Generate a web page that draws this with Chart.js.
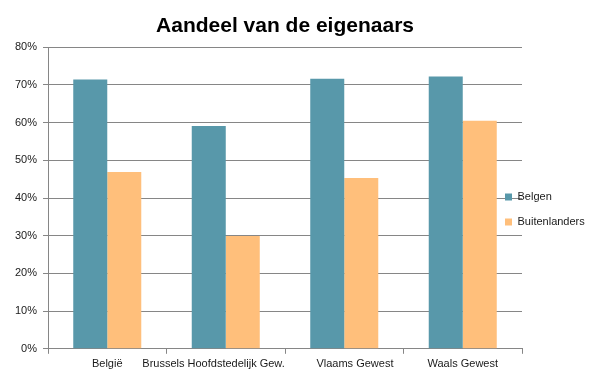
<!DOCTYPE html>
<html>
<head>
<meta charset="utf-8">
<script src="https://cdn.jsdelivr.net/npm/chart.js@4"></script>
<style>
  html, body { margin: 0; padding: 0; background: #fff; }
  #wrap { width: 605px; height: 378px; }
</style>
</head>
<body>
<div id="wrap"><canvas id="chart" width="605" height="378"></canvas></div>
<script>
// labels (extra spaces nudge the two long labels apart like in the original)
const categories = ["België", "Brussels Hoofdstedelijk Gew.        ", "       Vlaams Gewest", "Waals Gewest"];
const belgen = [71.4, 59.1, 71.6, 72.2];
const buitenlanders = [46.9, 29.9, 45.3, 60.5];
const yTicks = [0, 10, 20, 30, 40, 50, 60, 70, 80];

const gridColor = "#868686";
const textColor = "#1a1a1a";

// legend sits partly over the plot area, like Excel does it
const legendShift = {
  id: "legendShift",
  afterLayout(chart) {
    const lg = chart.legend;
    lg.left = 491;
    lg.width = 110;
    lg.right = lg.left + lg.width;
    lg.top += 16;
    lg.bottom += 16;
  }
};

const ctx = document.getElementById("chart").getContext("2d");
new Chart(ctx, {
  type: "bar",
  data: {
    labels: categories,
    datasets: [
      { label: "Belgen", data: belgen, backgroundColor: "#5898AA" },
      { label: "Buitenlanders", data: buitenlanders, backgroundColor: "#FFBF7B" }
    ]
  },
  options: {
    responsive: false,
    animation: false,
    layout: { padding: { top: 12, right: 0, left: 9, bottom: 3 } },
    datasets: {
      bar: { barPercentage: 1, categoryPercentage: 0.574 }
    },
    plugins: {
      title: {
        display: true,
        text: "Aandeel van de eigenaars",
        color: "#000",
        fullSize: false,
        font: { family: "Liberation Sans", size: 21, weight: "bold" },
        padding: { top: 2, bottom: 8 }
      },
      legend: {
        position: "right",
        maxWidth: 83,
        labels: {
          boxWidth: 7,
          boxHeight: 7,
          color: textColor,
          padding: 14,
          font: { family: "Liberation Sans", size: 11 }
        }
      },
      tooltip: { enabled: false }
    },
    scales: {
      x: {
        grid: {
          display: true,
          drawOnChartArea: false,
          drawTicks: true,
          tickLength: 5,
          color: gridColor,
          offset: true
        },
        border: { color: gridColor },
        ticks: {
          color: textColor,
          autoSkip: false,
          maxRotation: 0,
          minRotation: 0,
          padding: 4,
          font: { family: "Liberation Sans", size: 11 }
        }
      },
      y: {
        min: 0,
        max: 80,
        afterBuildTicks: axis => { axis.ticks = yTicks.map(v => ({ value: v })); },
        grid: { color: gridColor, tickLength: 5 },
        border: { color: gridColor },
        ticks: {
          color: textColor,
          padding: 6,
          font: { family: "Liberation Sans", size: 11 },
          callback: v => v + "%"
        }
      }
    }
  },
  plugins: [legendShift]
});
</script>
</body>
</html>
